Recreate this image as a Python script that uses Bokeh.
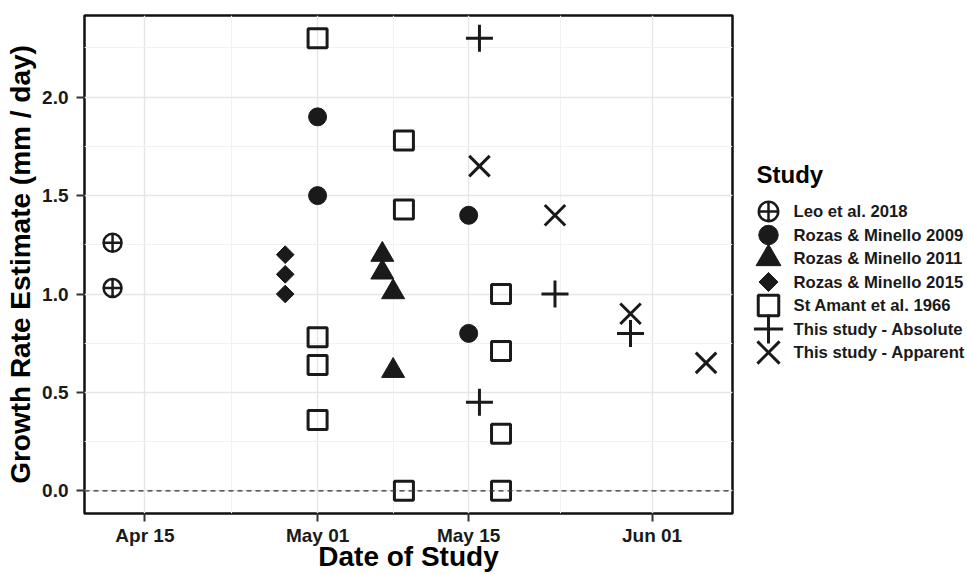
import numpy as np
import pandas as pd
from bokeh.plotting import figure
from bokeh.layouts import row
from bokeh.models import (Range1d, FixedTicker, SingleIntervalTicker,
                          DatetimeTickFormatter, PrintfTickFormatter, Span,
                          ColumnDataSource)
from bokeh.core.properties import value
from bokeh.embed import file_html
from bokeh.resources import INLINE

# ---------------- data ----------------
YEAR = "2019"
leo_dates = ["04-12", "04-12"]
leo_rates = [1.26, 1.03]

rm2009_dates = ["05-01", "05-01", "05-15", "05-15"]
rm2009_rates = [1.90, 1.50, 1.40, 0.80]

rm2011_dates = ["05-07", "05-07", "05-08", "05-08"]
rm2011_rates = [1.20, 1.11, 1.01, 0.61]

rm2015_dates = ["04-28", "04-28", "04-28"]
rm2015_rates = [1.20, 1.10, 1.00]

stamant_dates = ["05-01", "05-01", "05-01", "05-01",
                 "05-09", "05-09", "05-09",
                 "05-18", "05-18", "05-18", "05-18"]
stamant_rates = [2.30, 0.78, 0.64, 0.36,
                 1.78, 1.43, 0.00,
                 1.00, 0.71, 0.29, 0.00]

abs_dates = ["05-16", "05-16", "05-23", "05-30"]
abs_rates = [2.30, 0.45, 1.00, 0.80]

app_dates = ["05-16", "05-23", "05-30", "06-06"]
app_rates = [1.65, 1.40, 0.90, 0.65]

study_labels = ["Leo et al. 2018", "Rozas & Minello 2009", "Rozas & Minello 2011",
                "Rozas & Minello 2015", "St Amant et al. 1966",
                "This study - Absolute", "This study - Apparent"]

x_title = "Date of Study"
y_title = "Growth Rate Estimate (mm / day)"
legend_title = "Study"

x_tick_dates = ["04-15", "05-01", "05-15", "06-01"]
y_tick_interval = 0.5

# ---------------- helpers ----------------
DAY = 86400000.0


def ms(d):
    return pd.Timestamp(f"{YEAR}-{d}").value / 1e6


INK = "#1a1a1a"
FONT = "Liberation Sans"

styles = [
    dict(marker="circle_cross", size=18, fill_color=None, line_color=INK, line_width=2.5),
    dict(marker="circle", size=18, fill_color=INK, line_color=INK, line_width=1),
    dict(marker="triangle", size=23, fill_color=INK, line_color=INK, line_width=1),
    dict(marker="square", size=12.5, angle=np.pi / 4, fill_color=INK, line_color=INK, line_width=1),
    dict(marker="square", size=19, fill_color=None, line_color=INK, line_width=3),
    dict(marker="cross", size=27, line_color=INK, line_width=3),
    dict(marker="x", size=29, line_color=INK, line_width=3),
]

series = [
    (leo_dates, leo_rates),
    (rm2009_dates, rm2009_rates),
    (rm2011_dates, rm2011_rates),
    (rm2015_dates, rm2015_rates),
    (stamant_dates, stamant_rates),
    (abs_dates, abs_rates),
    (app_dates, app_rates),
]

W, H = 734, 574
BL, BR, BT, BB = 84, 2, 15, 61

# ---------------- main plot ----------------
p = figure(width=W, height=H, output_backend="svg", toolbar_location=None,
           x_range=Range1d(ms("04-09") + 0.4 * DAY, ms("06-08") + 0.45 * DAY),
           y_range=Range1d(-0.115, 2.415),
           min_border_left=BL, min_border_right=BR, min_border_top=BT, min_border_bottom=BB)
p.background_fill_color = "white"
p.border_fill_color = "white"
p.outline_line_color = "#111111"
p.outline_line_width = 2.5

major = [ms(d) for d in x_tick_dates]
minor = [major[0] - (major[1] - major[0]) / 2]
minor += [(a + b) / 2 for a, b in zip(major[:-1], major[1:])]
minor += [major[-1] + (major[-1] - major[-2]) / 2]
p.xaxis.ticker = FixedTicker(ticks=major, minor_ticks=minor)
p.xaxis.formatter = DatetimeTickFormatter(days="%b %d", months="%b %d", years="%b %d")
p.yaxis.ticker = SingleIntervalTicker(interval=y_tick_interval, num_minor_ticks=2)
p.yaxis.formatter = PrintfTickFormatter(format="%.1f")

p.xgrid.grid_line_color = "#e6e6e6"
p.ygrid.grid_line_color = "#e6e6e6"
p.xgrid.grid_line_width = 1.4
p.ygrid.grid_line_width = 1.4
p.xgrid.minor_grid_line_color = "#f1f1f1"
p.ygrid.minor_grid_line_color = "#f1f1f1"
p.xgrid.minor_grid_line_width = 1
p.ygrid.minor_grid_line_width = 1

for ax in (p.xaxis, p.yaxis):
    ax.axis_line_color = None
    ax.major_tick_line_color = "#333333"
    ax.major_tick_line_width = 2
    ax.major_tick_out = 8
    ax.major_tick_in = 0
    ax.minor_tick_line_color = None
    ax.major_label_text_font = FONT
    ax.major_label_text_font_style = "bold"
    ax.major_label_text_font_size = "19px"
    ax.major_label_text_color = INK
    ax.axis_label_text_font = FONT
    ax.axis_label_text_font_style = "bold"
    ax.axis_label_text_font_size = "28px"
    ax.axis_label_text_color = "black"

p.xaxis.axis_label = x_title
p.yaxis.axis_label = y_title
p.xaxis.major_label_standoff = 3
p.yaxis.major_label_standoff = 8
p.xaxis.axis_label_standoff = -8
p.yaxis.axis_label_standoff = 3

p.add_layout(Span(location=0, dimension="width", line_color="#333333",
                  line_width=1.3, line_dash="5 4"))

for (dates, rates), st in zip(series, styles):
    src = ColumnDataSource(dict(x=[ms(d) for d in dates], y=rates))
    p.scatter("x", "y", source=src, **st)

# ---------------- legend panel (screen-like coordinates) ----------------
LW = 967 - W
leg = figure(width=LW, height=H, output_backend="svg", toolbar_location=None,
             x_range=Range1d(0, LW), y_range=Range1d(H - BB, BT),
             x_axis_location=None, y_axis_location=None,
             min_border_left=0, min_border_right=0,
             min_border_top=BT, min_border_bottom=BB)
leg.grid.visible = False
leg.outline_line_color = None
leg.background_fill_color = "white"
leg.border_fill_color = "white"

leg.text(x=[22], y=[174], text=[legend_title], text_font=value(FONT),
         text_font_style="bold", text_font_size="24px", text_color="black",
         text_baseline="middle", text_align="left")

step = 23.5
ys = [211 + i * step for i in range(len(study_labels))]
for i, st in enumerate(styles):
    st_leg = dict(st)
    st_leg["size"] = st["size"] * 1.08
    leg.scatter(x=[34], y=[ys[i]], **st_leg)
leg.text(x=[59] * len(study_labels), y=ys, text=study_labels, text_font=value(FONT),
         text_font_style="bold", text_font_size="16.7px", text_color=INK,
         text_baseline="middle", text_align="left")

layout = row(p, leg)
open("out.html", "w").write(file_html(layout, INLINE))
